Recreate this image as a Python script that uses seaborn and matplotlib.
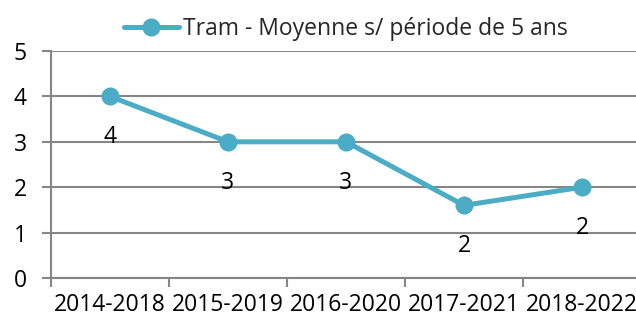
import matplotlib
matplotlib.use("Agg")
import matplotlib.pyplot as plt
import seaborn as sns
import pandas as pd
import numpy as np

periods = ["2014-2018", "2015-2019", "2016-2020", "2017-2021", "2018-2022"]
moyenne = [4.0, 3.0, 3.0, 1.6, 2.0]
series_name = "Tram - Moyenne s/ période de 5 ans"
y_ticks = [0, 1, 2, 3, 4, 5]

sns.set_style("white")
plt.rcParams["font.family"] = ["Open Sans", "DejaVu Sans"]

line_color = "#4BACC6"
grid_color = "#868686"
fsize = 16.5

df = pd.DataFrame({"periode": periods, "valeur": moyenne})

fig = plt.figure(figsize=(6.36, 3.22), dpi=100)
ax = fig.add_axes([51 / 636, 44 / 322, 590 / 636, 227 / 322])

sns.lineplot(data=df, x="periode", y="valeur", ax=ax, color=line_color,
             linewidth=3.6, marker="o", markersize=13, markeredgewidth=0,
             label=series_name, sort=False)

ax.set_xlim(-0.5, len(periods) - 0.5)
ax.set_ylim(0, 5)
ax.set_yticks(y_ticks)
ax.set_xticks(range(len(periods)))
ax.set_xticklabels(periods)
ax.set_xticks(np.arange(-0.5, len(periods), 1.0), minor=True)
ax.set_xlabel("")
ax.set_ylabel("")

ax.yaxis.grid(True, color=grid_color, linewidth=1.5)
ax.set_axisbelow(True)
for side in ["top", "right"]:
    ax.spines[side].set_visible(False)
for side in ["left", "bottom"]:
    ax.spines[side].set_color(grid_color)
    ax.spines[side].set_linewidth(1.5)

ax.tick_params(axis="y", which="major", length=6.5, width=1.5, color=grid_color,
               pad=11, labelsize=fsize, labelcolor="black", direction="out", left=True)
ax.tick_params(axis="x", which="major", length=0, pad=11, labelsize=fsize,
               labelcolor="black")
ax.tick_params(axis="x", which="minor", length=6.5, width=1.5, color=grid_color,
               direction="out", bottom=True)

for i, v in enumerate(moyenne):
    ax.annotate(f"{v:.0f}", (i, v), xytext=(0, -29.5), textcoords="offset points",
                ha="center", va="center", fontsize=fsize, color="black")

leg = ax.legend(loc="lower center", bbox_to_anchor=(0.5, 1.0),
                frameon=False, fontsize=fsize, handlelength=2.4, handletextpad=0.2,
                borderaxespad=0.05)
for line in leg.get_lines():
    line.set_linewidth(3.6)

fig.savefig("out.png", dpi=100)
